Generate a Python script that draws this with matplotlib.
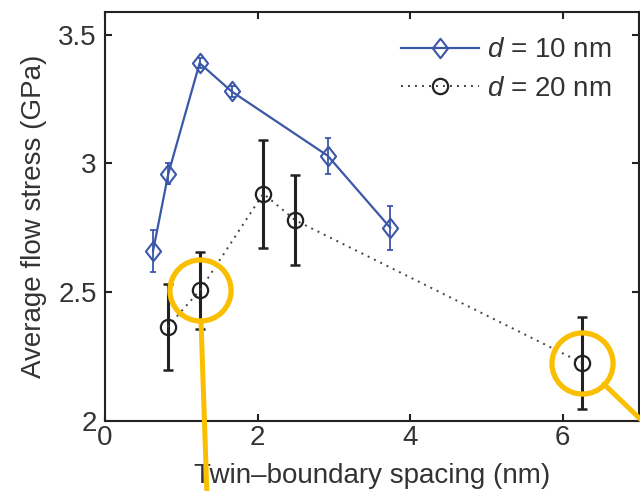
import matplotlib
matplotlib.use("Agg")
import matplotlib.pyplot as plt
from matplotlib.path import Path

plt.rcParams["font.family"] = ["Liberation Sans", "DejaVu Sans"]
plt.rcParams["mathtext.fontset"] = "custom"
plt.rcParams["mathtext.rm"] = "Liberation Sans"
plt.rcParams["mathtext.it"] = "Liberation Sans:italic"

# d = 10 nm series
spacing_10 = [0.63, 0.83, 1.24, 1.66, 2.92, 3.74]
stress_10 = [2.66, 2.96, 3.39, 3.28, 3.03, 2.75]
err_10 = [0.08, 0.04, 0.02, 0.02, 0.07, 0.085]

# d = 20 nm series
spacing_20 = [0.82, 1.245, 2.075, 2.49, 6.25]
stress_20 = [2.365, 2.507, 2.883, 2.78, 2.225]
err_20 = [0.168, 0.15, 0.21, 0.176, 0.18]

# highlighted points (yellow rings)
ring_x = [1.245, 6.25]
ring_y = [2.507, 2.225]

xticks = [0, 2, 4, 6]
yticks = [2, 2.5, 3, 3.5]
ytick_labels = ["2", "2.5", "3", "3.5"]

blue = "#3b57a8"
ink = "#222222"
text_c = "#333333"
yellow = "#f9bf00"

diamond = Path([(0, 1), (0.78, 0), (0, -1), (-0.78, 0), (0, 1)],
               [Path.MOVETO, Path.LINETO, Path.LINETO, Path.LINETO, Path.CLOSEPOLY])

fig = plt.figure(figsize=(6.4, 4.91), dpi=100)
ax = fig.add_axes([105 / 640, 70.3 / 491, 534 / 640, 409 / 491])

ax.errorbar(spacing_10, stress_10, yerr=err_10, fmt="none", ecolor=blue,
            elinewidth=1.3, capsize=2.5, capthick=1.3, zorder=2)
ax.plot(spacing_10, stress_10, color=blue, lw=1.6, marker=diamond, ms=14,
        mfc="none", mec=blue, mew=1.5, label="$d$ = 10 nm", zorder=3)

ax.errorbar(spacing_20, stress_20, yerr=err_20, fmt="none", ecolor=ink,
            elinewidth=2.2, capsize=3.3, capthick=1.8, zorder=2)
ax.plot(spacing_20, stress_20, color="#444444", lw=1.4, ls=(0, (1, 2.6)),
        marker="o", ms=11, mfc="none", mec=ink, mew=1.6,
        label="$d$ = 20 nm", zorder=3)

ax.set_xlim(0, 7)
ax.set_ylim(2, 3.59)
ax.set_xticks(xticks)
ax.set_yticks(yticks)
ax.set_yticklabels(ytick_labels)

for s in ax.spines.values():
    s.set_linewidth(1.5)
    s.set_color(ink)
ax.tick_params(direction="in", length=5, width=1.5, color=ink,
               labelsize=20, labelcolor=text_c, top=True, right=True)
ax.tick_params(axis="x", pad=3)
ax.tick_params(axis="y", pad=6)

ax.set_xlabel("Twin\u2013boundary spacing (nm)", fontsize=20, color=text_c, labelpad=9)
ax.set_ylabel("Average flow stress (GPa)", fontsize=20, color=text_c, labelpad=8)

ax.legend(loc="upper right", bbox_to_anchor=(0.985, 0.985), frameon=False,
          fontsize=20, handlelength=2.8, handletextpad=0.3,
          labelspacing=0.45, borderaxespad=0.3, labelcolor=text_c)

# yellow highlight rings and leader lines
ax.plot(ring_x, ring_y, ls="none", marker="o", ms=44, mfc="none",
        mec=yellow, mew=3.8, zorder=5, clip_on=False)
leader_ends = [(207, -5), (660, 53)]
for x0, y0, end in zip(ring_x, ring_y, leader_ends):
    ax.annotate("", xy=end, xycoords="figure pixels", xytext=(x0, y0),
                textcoords="data", annotation_clip=False, zorder=5,
                arrowprops=dict(arrowstyle="-", color=yellow, lw=3.6,
                                shrinkA=22, shrinkB=0, patchA=None))

fig.savefig("out.png", dpi=100)
